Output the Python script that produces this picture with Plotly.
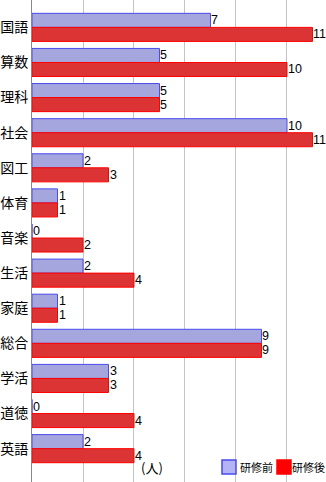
import plotly.graph_objects as go

categories = ["国語", "算数", "理科", "社会", "図工", "体育", "音楽", "生活", "家庭", "総合", "学活", "道徳", "英語"]
before = [7, 5, 5, 10, 2, 1, 0, 2, 1, 9, 3, 0, 2]
after = [11, 10, 5, 11, 3, 1, 2, 4, 1, 9, 3, 4, 4]
series_names = ["研修前", "研修後"]
unit_label = "(人)"

fill_colors = ["#a6a6de", "#dc3434"]
line_colors = ["#4a4aee", "#ff0000"]
legend_fill = ["#b4b4f4", "#ff0000"]

W, H = 326, 482
ML = 32
PW = W - ML


def px_x(px):
    return (px - ML) / PW


def px_y(py):
    return 1 - py / H


num_font = dict(family="Liberation Sans, Arial", size=12.5, color="black")
jp_font = "Noto Sans CJK JP"

fig = go.Figure()
for name, vals, fc, lc in zip(series_names, [before, after], fill_colors, line_colors):
    fig.add_trace(go.Bar(
        y=categories, x=vals, orientation="h", name=name,
        marker=dict(color=fc, line=dict(color=lc, width=1)),
        showlegend=False,
    ))

annotations = []
for vals, ys in [(before, 7), (after, -7)]:
    for c, v in zip(categories, vals):
        annotations.append(dict(
            x=v, y=c, xref="x", yref="y", text=str(v), showarrow=False,
            xanchor="left", yanchor="middle", xshift=1, yshift=ys,
            font=num_font, borderpad=0, borderwidth=0,
        ))

annotations.append(dict(text=unit_label, x=px_x(152), xref="paper", y=px_y(467), yref="paper",
                        xanchor="center", yanchor="middle", showarrow=False,
                        font=dict(family=jp_font, size=13, color="black")))

# manual legend
legend_boxes = [(222, 236), (277, 291)]
legend_text_x = [239, 326]
shapes = []
for i, name in enumerate(series_names):
    x0, x1 = legend_boxes[i]
    shapes.append(dict(type="rect", xref="paper", yref="paper",
                       x0=px_x(x0), x1=px_x(x1), y0=px_y(474), y1=px_y(460),
                       fillcolor=legend_fill[i], line=dict(color=line_colors[i], width=1.5)))
    annotations.append(dict(text=name, xref="paper", yref="paper",
                            x=px_x(legend_text_x[i]), y=px_y(467),
                            xanchor="left" if i == 0 else "right", yanchor="middle",
                            showarrow=False, borderpad=0,
                            font=dict(family=jp_font, size=11, color="black")))

fig.update_layout(
    width=W, height=H,
    margin=dict(l=ML, r=0, t=0, b=0),
    paper_bgcolor="white", plot_bgcolor="white",
    barmode="group", bargap=0.2, bargroupgap=0,
    showlegend=False,
    xaxis=dict(range=[0, 11.53], dtick=2, showgrid=True, gridcolor="#c4c4c4", gridwidth=1,
               showticklabels=False, zeroline=False, showline=False, ticks=""),
    yaxis=dict(type="category", range=[12.95, -0.78], showgrid=False, showline=True,
               linecolor="#888888", linewidth=1, ticks="",
               tickfont=dict(family=jp_font, size=14, color="black")),
    annotations=annotations,
    shapes=shapes,
)

fig.write_html("out.html")
